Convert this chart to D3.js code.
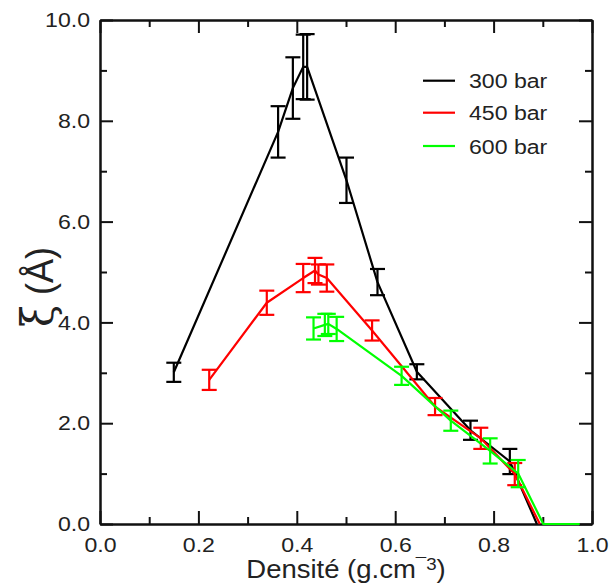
<!DOCTYPE html>
<html><head><meta charset="utf-8">
<script src="https://cdn.jsdelivr.net/npm/d3@7"></script>
<style>
body{margin:0;background:#fff;}
svg{display:block;}
text{font-family:"Liberation Sans",Arial,Helvetica,sans-serif;fill:#222;}
</style>
</head><body>
<svg id="c" width="615" height="586"></svg>
<script>
// ---- data ----
const seriesNames = ["300 bar", "450 bar", "600 bar"];
const seriesColors = ["#000000", "#ff0000", "#00ff00"];

const x300 = [0.150, 0.362, 0.392, 0.413, 0.421, 0.501, 0.564, 0.644, 0.753, 0.833, 0.888];
const y300 = [3.01, 7.78, 8.65, 9.07, 9.07, 6.82, 4.80, 3.02, 1.86, 1.24, 0];
const e300 = [0.19, 0.51, 0.61, 0.64, 0.65, 0.45, 0.26, 0.15, 0.19, 0.25, 0];

const x450 = [0.222, 0.339, 0.413, 0.437, 0.444, 0.461, 0.553, 0.681, 0.774, 0.843, 0.894];
const y450 = [2.86, 4.39, 4.88, 5.03, 4.95, 4.88, 3.84, 2.33, 1.70, 0.99, 0];
const e450 = [0.20, 0.24, 0.28, 0.25, 0.20, 0.27, 0.20, 0.17, 0.21, 0.22, 0];

const x600 = [0.434, 0.457, 0.464, 0.481, 0.613, 0.713, 0.793, 0.850, 0.901, 0.975];
const y600 = [3.88, 3.95, 3.97, 3.87, 2.94, 2.05, 1.45, 1.00, 0, 0];
const e600 = [0.22, 0.22, 0.20, 0.24, 0.18, 0.20, 0.25, 0.27, 0, 0];

const xTicks = [0.0, 0.2, 0.4, 0.6, 0.8, 1.0];
const xMinor = [0.1, 0.3, 0.5, 0.7, 0.9];
const yTicks = [0.0, 2.0, 4.0, 6.0, 8.0, 10.0];
const yMinor = [1.0, 3.0, 5.0, 7.0, 9.0];

// ---- drawing ----
const svg = d3.select("#c");
const L = 100, R = 592, T = 20, B = 524;
const SX = 1.1; // horizontal text stretch
const x = d3.scaleLinear().domain([0, 1]).range([L, R]);
const y = d3.scaleLinear().domain([0, 10]).range([B, T]);
const fmt = d3.format(".1f");
const MAJ = 13, MIN = 7;

function styleAxis(g) {
  g.selectAll("path").attr("stroke", "#111").attr("stroke-width", 2);
  g.selectAll("line").attr("stroke", "#111").attr("stroke-width", 2);
}

// bottom
const gb = svg.append("g").attr("transform", `translate(0,${B})`)
  .call(d3.axisBottom(x).tickValues(xTicks).tickFormat(fmt).tickSizeInner(-MAJ).tickSizeOuter(0).tickPadding(13));
gb.selectAll("text").attr("font-size", 21).attr("transform", `scale(${SX},1)`);
styleAxis(gb);
const gbm = svg.append("g").attr("transform", `translate(0,${B})`)
  .call(d3.axisBottom(x).tickValues(xMinor).tickFormat("").tickSizeInner(-MIN).tickSizeOuter(0));
styleAxis(gbm);
// top
const gt = svg.append("g").attr("transform", `translate(0,${T})`)
  .call(d3.axisTop(x).tickValues(xTicks).tickFormat("").tickSizeInner(-MAJ).tickSizeOuter(0));
styleAxis(gt);
const gtm = svg.append("g").attr("transform", `translate(0,${T})`)
  .call(d3.axisTop(x).tickValues(xMinor).tickFormat("").tickSizeInner(-MIN).tickSizeOuter(0));
styleAxis(gtm);
// left
const gl = svg.append("g").attr("transform", `translate(${L},0)`)
  .call(d3.axisLeft(y).tickValues(yTicks).tickFormat(fmt).tickSizeInner(-MAJ).tickSizeOuter(0).tickPadding(10));
gl.selectAll("text").attr("font-size", 21).attr("x", -10 / SX).attr("transform", `scale(${SX},1)`);
styleAxis(gl);
const glm = svg.append("g").attr("transform", `translate(${L},0)`)
  .call(d3.axisLeft(y).tickValues(yMinor).tickFormat("").tickSizeInner(-MIN).tickSizeOuter(0));
styleAxis(glm);
// right
const gr = svg.append("g").attr("transform", `translate(${R},0)`)
  .call(d3.axisRight(y).tickValues(yTicks).tickFormat("").tickSizeInner(-MAJ).tickSizeOuter(0));
styleAxis(gr);
const grm = svg.append("g").attr("transform", `translate(${R},0)`)
  .call(d3.axisRight(y).tickValues(yMinor).tickFormat("").tickSizeInner(-MIN).tickSizeOuter(0));
styleAxis(grm);

// series
const series = [
  {xs: x300, ys: y300, es: e300},
  {xs: x450, ys: y450, es: e450},
  {xs: x600, ys: y600, es: e600}
];
const line = d3.line().x(d => x(d.x)).y(d => y(d.y));
const CAP = 7.5;
series.forEach((s, i) => {
  const pts = s.xs.map((v, k) => ({x: v, y: s.ys[k], e: s.es[k]}));
  const g = svg.append("g");
  g.append("path").datum(pts).attr("d", line)
    .attr("fill", "none").attr("stroke", seriesColors[i]).attr("stroke-width", 2.2)
    .attr("stroke-linejoin", "round");
  const eb = g.selectAll("g.eb").data(pts.filter(d => d.e > 0)).join("g")
    .attr("stroke", seriesColors[i]).attr("stroke-width", 2.2);
  eb.append("line").attr("x1", d => x(d.x)).attr("x2", d => x(d.x))
    .attr("y1", d => y(d.y + d.e)).attr("y2", d => y(d.y - d.e));
  eb.append("line").attr("x1", d => x(d.x) - CAP).attr("x2", d => x(d.x) + CAP)
    .attr("y1", d => y(d.y + d.e)).attr("y2", d => y(d.y + d.e));
  eb.append("line").attr("x1", d => x(d.x) - CAP).attr("x2", d => x(d.x) + CAP)
    .attr("y1", d => y(d.y - d.e)).attr("y2", d => y(d.y - d.e));
});

// legend
const legY = [80.7, 112.7, 146];
seriesNames.forEach((n, i) => {
  svg.append("line").attr("x1", 423).attr("x2", 455).attr("y1", legY[i]).attr("y2", legY[i])
    .attr("stroke", seriesColors[i]).attr("stroke-width", 2.2);
  svg.append("text").attr("transform", `translate(469,${legY[i] + 7.5}) scale(${SX},1)`)
    .attr("font-size", 21).text(n);
});

// x label
const xl = svg.append("text").attr("transform", `translate(346,578) scale(${SX},1)`)
  .attr("text-anchor", "middle").attr("font-size", 25);
xl.append("tspan").text("Densité (g.cm");
xl.append("tspan").attr("dy", -8).attr("font-size", 17).text("¯3");
xl.append("tspan").attr("dy", 8).text(")");

// y label
const yl = svg.append("text").attr("transform", `translate(53,287) scale(${SX},1) rotate(-90)`)
  .attr("text-anchor", "middle").attr("font-size", 36);
yl.append("tspan").attr("font-family", "'DejaVu Serif',serif").attr("font-size", 40).text("ξ");
yl.append("tspan").text(" (Å)");
</script>
</body></html>
